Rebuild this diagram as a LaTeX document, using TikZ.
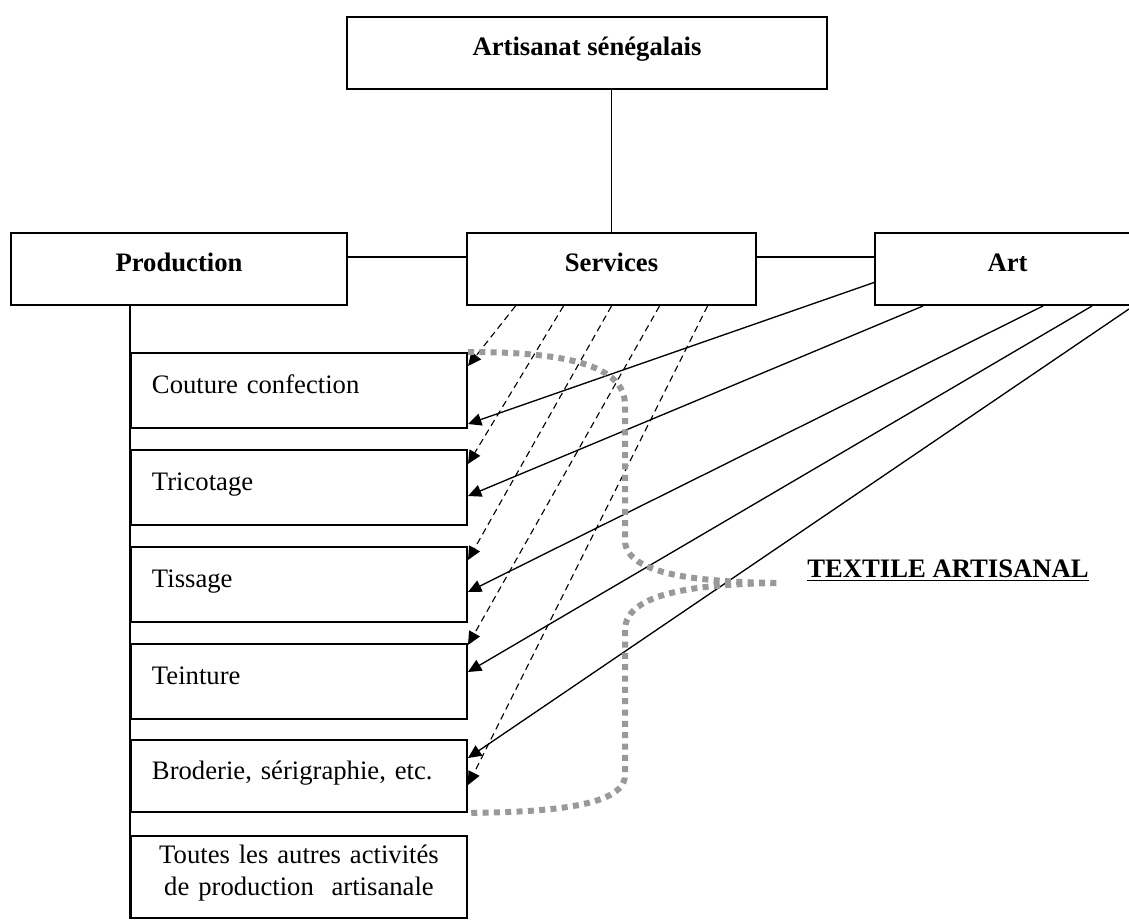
\documentclass[tikz,border=0pt,12pt]{standalone}
\usepackage{fontspec}
\setmainfont{Liberation Serif}
\usetikzlibrary{calc,arrows.meta}

\begin{document}
\begin{tikzpicture}[
  x=0.45pt,
  y=-0.45pt,
]

  \tikzstyle{headbox}=[draw,rectangle,line width=0.9pt,font=\bfseries,inner sep=0pt,text height=8pt,text depth=6pt,minimum height=32.4pt]
  \tikzstyle{subbox}=[draw,rectangle,line width=0.9pt,inner xsep=9.45pt,inner ysep=0pt,text width=132.3pt,align=left,text height=8pt,text depth=5pt,minimum height=33.75pt]
  \tikzstyle{link}=[draw,line width=0.7pt]
  \tikzstyle{artptr}=[draw,line width=0.6pt,-{Triangle[length=6pt,width=5.5pt]}]
  \tikzstyle{servptr}=[draw,line width=0.5pt,dash pattern=on 3pt off 2pt,-{Triangle[length=6pt,width=5.5pt]}]
  \tikzstyle{brace}=[draw=black!40,line width=2.7pt,dash pattern=on 2.7pt off 2.4pt]

  \clip (0,0) rectangle (1129,921);

  % nodes
  \node[headbox,minimum width=216pt] (top) at (587,53) {Artisanat sénégalais};

  \node[headbox,minimum width=151.2pt] (prod) at (179,269) {Production};
  \node[headbox,minimum width=130.05pt] (serv) at (611.5,269) {Services};
  \node[headbox,minimum width=119.25pt] (art) at (1007.5,269) {Art};

  \node[subbox] (cout) at (299,390.5) {Couture confection};
  \node[subbox] (tric) at (299,487.5) {Tricotage};
  \node[subbox] (tiss) at (299,584.5) {Tissage};
  \node[subbox] (tein) at (299,681.5) {Teinture};
  \node[subbox,minimum height=32.4pt] (brod) at (299,776) {Broderie, sérigraphie, etc.};
  \node[subbox,align=center,text depth=20pt,minimum height=36.9pt] (tout) at (299,877) {Toutes les autres activités\\de production\ \ artisanale};

  \node[font=\bfseries] (textile) at (948,571) {\underline{TEXTILE ARTISANAL}};

  \coordinate (a1) at ($(art.west)+(0,13.5)$);
  \coordinate (a2) at ($(art.south)+(-84.5,0)$);
  \coordinate (a3) at ($(art.south)+(35.5,0)$);
  \coordinate (a4) at ($(art.south)+(84.5,0)$);
  \coordinate (a5) at (1129,309);
  \coordinate (tip) at (779,583);

  % tree
  \draw[link] (serv.north) -- (serv.north |- top.south);
  \draw[link] ([yshift=5.4pt]prod.east) -- ([yshift=5.4pt]serv.west);
  \draw[link] ([yshift=5.4pt]serv.east) -- ([yshift=5.4pt]art.west);
  \draw[link] (prod.south -| cout.west) -- (tout.south west);

  % pointers
  \foreach \s/\b/\d in {-96/cout/14, -48/tric/15, 0/tiss/14, 48/tein/2, 96/brod/46}
    \draw[servptr] ($(serv.south)+(\s,0)$) -- ($(\b.north east)+(0,\d)$);

  \foreach \a/\b/\d in {a1/cout/72, a2/tric/47, a3/tiss/46, a4/tein/29, a5/brod/19}
    \draw[artptr] (\a) -- ($(\b.north east)+(0,\d)$);

  % brace
  \draw[brace] (cout.north east) .. controls (565,352) and (625,365) .. (625,405)
    -- (625,540) .. controls (625,575) and (700,582) .. (tip)
    .. controls (700,584) and (625,592) .. (625,630)
    -- (625,775) .. controls (625,808) and (540,812) .. (brod.south east);

\end{tikzpicture}
\end{document}
